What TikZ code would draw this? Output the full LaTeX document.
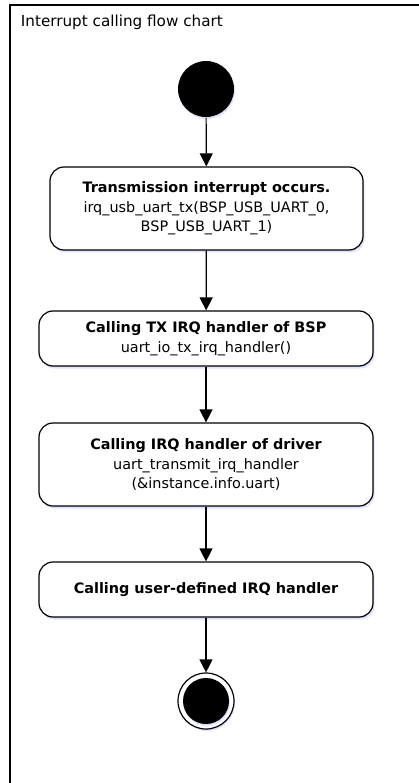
\documentclass[tikz,border=0pt]{standalone}
\usepackage{fontspec}
\setmainfont{DejaVu Sans}
\usetikzlibrary{arrows.meta, shadows, positioning}

\tikzset{
  act/.style={draw, line width=1.2pt, rounded corners=14pt, fill=white, align=center,
    minimum width=334pt, minimum height=55pt, inner sep=0pt,
    font=\fontsize{14.4}{19.5}\selectfont,
    drop shadow={fill=blue!12, opacity=1, shadow xshift=1.5pt, shadow yshift=-2.5pt}},
  dot/.style={circle, fill=black, minimum size=56pt, inner sep=0pt,
    drop shadow={fill=blue!12, opacity=1, shadow xshift=1pt, shadow yshift=-2pt}},
}

\begin{document}
\begin{tikzpicture}[>={Triangle[length=13pt,width=13pt]}, x=1pt, y=-1pt, line width=1.2pt]
  \useasboundingbox (0,0) rectangle (419,783);
  \draw[line width=1.4pt] (419,5) -- (10,5) -- (10,783);
  \node[anchor=base west, font=\fontsize{15.2}{17}\selectfont] (title) at (17,27) {Interrupt calling flow chart};

  \node[dot] (start) at (206,89) {};
  \node[act, minimum width=313pt, minimum height=83pt] (occurs) at (206.5,208.5)
    {\textbf{Transmission interrupt occurs.}\\irq\_usb\_uart\_tx(BSP\_USB\_UART\_0,\\BSP\_USB\_UART\_1)};
  \node[act] (bsp) at (206,338.5)
    {\textbf{Calling TX IRQ handler of BSP}\\uart\_io\_tx\_irq\_handler()};
  \node[act, minimum height=83pt] (driver) at (206,464.5)
    {\textbf{Calling IRQ handler of driver}\\uart\_transmit\_irq\_handler\\(\&instance.info.uart)};
  \node[act] (user) at (206,589.5) {\textbf{Calling user-defined IRQ handler}};
  \node[circle, draw, fill=white, minimum size=56pt, inner sep=0pt,
    drop shadow={fill=blue!12, opacity=1, shadow xshift=1pt, shadow yshift=-2pt}] (final) at (206,701) {};
  \node[dot, minimum size=46pt, drop shadow={opacity=0}] (finaldot) at (final) {};

  \draw[->] (start) -- (occurs);
  \draw[->] (occurs) -- (bsp);
  \draw[->] (bsp) -- (driver);
  \draw[->] (driver) -- (user);
  \draw[->] (user) -- (final);
\end{tikzpicture}
\end{document}
